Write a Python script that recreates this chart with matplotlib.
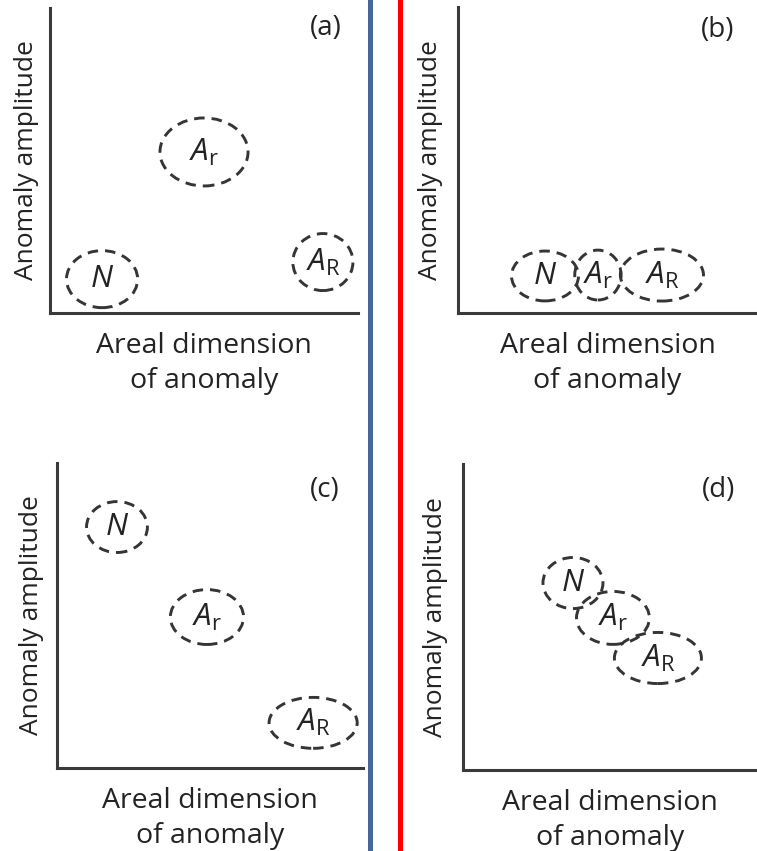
import matplotlib.pyplot as plt
from matplotlib.patches import Ellipse
from matplotlib.lines import Line2D

plt.rcParams['font.family'] = ['Open Sans', 'DejaVu Sans']
plt.rcParams['mathtext.fontset'] = 'custom'
plt.rcParams['mathtext.rm'] = 'Open Sans'
plt.rcParams['mathtext.it'] = 'Open Sans:italic'

# 数据 (坐标轴 0-100 的相对单位)
labels = [r'$\mathit{N}$', r'$\mathit{A}_{\mathrm{r}}$', r'$\mathit{A}_{\mathrm{R}}$']
panel_tags = ['(a)', '(b)', '(c)', '(d)']

# 椭圆中心 x, y 以及宽, 高
a_x = [16.9, 50.0, 88.6]
a_y = [11.1, 52.8, 16.7]
a_w = [23.1, 28.6, 19.5]
a_h = [18.7, 22.3, 18.7]

b_x = [29.1, 46.8, 68.2]
b_y = [12.1, 12.4, 12.4]
b_w = [22.4, 15.5, 27.8]
b_h = [16.3, 16.3, 17.0]

c_x = [19.6, 49.0, 83.7]
c_y = [79.0, 49.5, 14.8]
c_w = [19.9, 23.9, 28.8]
c_h = [16.7, 18.0, 16.7]

d_x = [37.4, 51.0, 66.3]
d_y = [61.1, 49.7, 36.6]
d_w = [20.4, 24.8, 29.6]
d_h = [16.7, 17.3, 16.7]

W, H = 757, 851
fig = plt.figure(figsize=(W / 100, H / 100), dpi=100)

# 各子图位置 (像素): 左, 右, 上, 下
boxes = [(50, 358, 8, 313), (458, 757, 7, 313), (57, 363, 463, 768), (463, 757, 464, 770)]
tag_pos = [(0.948, 0.934), (0.926, 0.925), (0.925, 0.91), (0.925, 0.915)]
ylab_pad = [8, 11, 9, 11]
panels = [(a_x, a_y, a_w, a_h), (b_x, b_y, b_w, b_h), (c_x, c_y, c_w, c_h), (d_x, d_y, d_w, d_h)]

txt = '#232326'
for (l, r, t, b), tag, tp, yp, (xs, ys, ws, hs) in zip(boxes, panel_tags, tag_pos, ylab_pad, panels):
    ax = fig.add_axes([l / W, 1 - b / H, (r - l) / W, (b - t) / H])
    ax.set_xlim(0, 100)
    ax.set_ylim(0, 100)
    ax.set_xticks([])
    ax.set_yticks([])
    for s in ['top', 'right']:
        ax.spines[s].set_visible(False)
    for s in ['left', 'bottom']:
        ax.spines[s].set_linewidth(2.2)
        ax.spines[s].set_color('#3a3a3a')
    ax.set_xlabel('Areal dimension\nof anomaly', fontsize=20.5, color=txt,
                  labelpad=14, linespacing=1.32)
    ax.set_ylabel('Anomaly amplitude', fontsize=19, color=txt, labelpad=yp)
    ax.text(tp[0], tp[1], tag, transform=ax.transAxes, ha='right', va='center',
            fontsize=20, color=txt)
    for x, y, w, h, lab in zip(xs, ys, ws, hs, labels):
        e = Ellipse((x, y), w, h, fill=False, edgecolor='#353535', lw=2.1,
                    linestyle=(0, (3.6, 2.4)))
        ax.add_patch(e)
        ax.text(x, y, lab, ha='center', va='center', fontsize=22.5, color=txt)

# 分隔线
fig.add_artist(Line2D([369.5 / W, 369.5 / W], [0, 1], color='#456a9a', lw=3.6))
fig.add_artist(Line2D([399.5 / W, 399.5 / W], [0, 1], color='#ff0000', lw=3.6))

plt.savefig('out.png', dpi=100)
